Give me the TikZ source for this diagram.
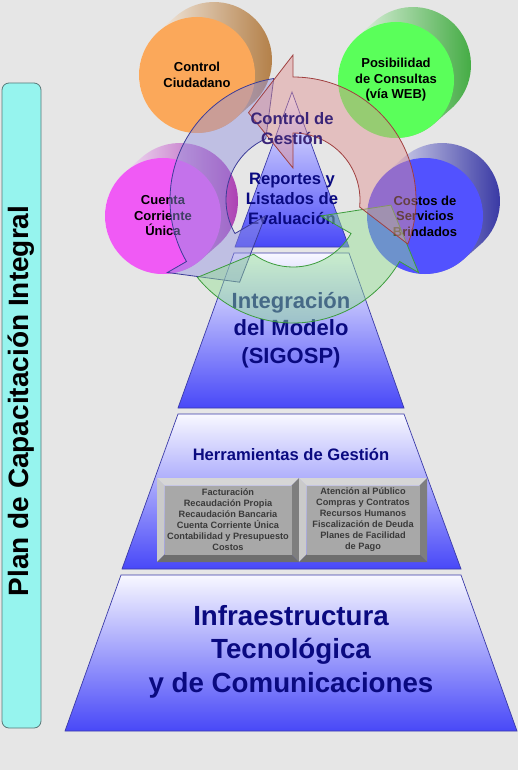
\documentclass[tikz,border=0pt]{standalone}
\usepackage{fontspec}
\setmainfont{Liberation Sans}
\usetikzlibrary{calc}
\definecolor{bgc}{HTML}{E6E6E6}
\definecolor{barfill}{HTML}{96F4EE}
\definecolor{bardraw}{HTML}{5A7878}
\definecolor{navy}{HTML}{0A0A80}
\definecolor{tierdraw}{HTML}{3A3AA8}
\definecolor{tiertop}{HTML}{F8F8FF}
\definecolor{tiermid}{HTML}{B4B4FF}
\definecolor{tierbot}{HTML}{4848F8}
\definecolor{orangeface}{HTML}{FBA85A}
\definecolor{orangedark}{HTML}{B07A40}
\definecolor{greenface}{HTML}{5AFF5A}
\definecolor{greendark}{HTML}{3CA83C}
\definecolor{magface}{HTML}{F05AF5}
\definecolor{magdark}{HTML}{A838B0}
\definecolor{blueface}{HTML}{5252FF}
\definecolor{bluedark}{HTML}{3030A0}
\definecolor{pinkfill}{HTML}{E09090}
\definecolor{pinkdraw}{HTML}{A04040}
\definecolor{lavfill}{HTML}{9090E0}
\definecolor{lavdraw}{HTML}{3C3C98}
\definecolor{mintfill}{HTML}{90E090}
\definecolor{mintdraw}{HTML}{3C9C3C}
\definecolor{gestion}{HTML}{3A2478}
\definecolor{boxtext}{HTML}{3A3A3A}
\definecolor{bevtop}{HTML}{D6D6D6}
\definecolor{bevleft}{HTML}{CACACA}
\definecolor{bevright}{HTML}{7E7E7E}
\definecolor{bevbot}{HTML}{6E6E6E}
\definecolor{bevface}{HTML}{A8A8A8}
\tikzset{
  circnode/.style={circle, minimum size=116pt, inner sep=0pt, draw=none, align=center,
    font=\fontsize{13}{15.5}\selectfont\bfseries, text=black},
  tier/.style={top color=tiertop, middle color=tiermid, bottom color=tierbot, draw=tierdraw, line width=0.7pt},
  tiertext/.style={align=center, text=navy, inner sep=0pt},
  boxtxt/.style={align=center, text=boxtext, inner sep=0pt, font=\fontsize{9.2}{11.1}\selectfont\bfseries},
  arrowring/.style={fill opacity=0.45, line width=0.8pt},
}
\newcommand\drawcyl[3]{% cx cy dark
  \begin{scope}[shift={(#1,-#2)}]
    \shade[left color=white, middle color=white!55!#3, right color=#3]
      (131.4:58) -- ++(17,15) arc[start angle=131.4,end angle=-48.6,radius=58]
      -- (-48.6:58) arc[start angle=-48.6,end angle=-228.6,radius=58] -- cycle;
  \end{scope}}
\newcommand\bevelbox[5]{% x1 y1 x2 y2 b (pixels, y downward)
  \fill[bevtop] (#1,-#2) -- (#3,-#2) -- ({#3-#5},{-#2-#5}) -- ({#1+#5},{-#2-#5}) -- cycle;
  \fill[bevleft] (#1,-#2) -- ({#1+#5},{-#2-#5}) -- ({#1+#5},{-#4+#5}) -- (#1,-#4) -- cycle;
  \fill[bevright] (#3,-#2) -- ({#3-#5},{-#2-#5}) -- ({#3-#5},{-#4+#5}) -- (#3,-#4) -- cycle;
  \fill[bevbot] (#1,-#4) -- (#3,-#4) -- ({#3-#5},{-#4+#5}) -- ({#1+#5},{-#4+#5}) -- cycle;
  \fill[bevface] ({#1+#5},{-#2-#5}) rectangle ({#3-#5},{-#4+#5});}
\newcommand\cycarrow[3]{% base angle, fill, draw
  \filldraw[arrowring, fill=#2, draw=#3]
    ({#1-111}:123) arc[start angle={#1-111}, end angle=#1, radius=123]
    -- (#1:145) -- ({#1+27}:98) -- (#1:32) -- (#1:67)
    arc[start angle=#1, end angle={#1-96}, radius=67] -- cycle;}
\begin{document}
\begin{tikzpicture}[x=1pt,y=1pt]
\useasboundingbox (0,0) rectangle (518,-770);
\fill[bgc] (0,0) rectangle (518,-770);

% left bar
\node[draw=bardraw, fill=barfill, rounded corners=7pt, minimum width=39pt, minimum height=645pt,
      inner sep=0pt, line width=0.8pt] (bar) at (21.5,-405.5) {};
\node[rotate=90, font=\fontsize{28}{30}\selectfont\bfseries, text=black, inner sep=0pt] (plan)
      at (21.5,-401) {Plan de Capacitación Integral};

% cylinders
\drawcyl{197}{75}{orangedark}
\node[circnode, fill=orangeface] (ciud) at (197,-75) {Control\\Ciudadano};
\drawcyl{396}{80}{greendark}
\node[circnode, fill=greenface] (web) at (396,-80) {Posibilidad\\de Consultas\\(vía WEB)};
\drawcyl{163}{216}{magdark}
\node[circnode, fill=magface] (cta) at (163,-216) {Cuenta\\Corriente\\Única};
\drawcyl{425}{216}{bluedark}
\node[circnode, fill=blueface] (costos) at (425,-216) {Costos de\\Servicios\\Brindados};

% pyramid tiers
\shadedraw[tier] (292,-92) -- (349,-247) -- (235,-247) -- cycle;
\shadedraw[tier] (234,-253) -- (349,-253) -- (404,-408) -- (178,-408) -- cycle;
\shadedraw[tier] (178,-414) -- (404,-414) -- (461,-569) -- (122,-569) -- cycle;
\shadedraw[tier] (121,-575) -- (461,-575) -- (517,-731) -- (65,-731) -- cycle;

% gray bevel boxes
\bevelbox{157}{478}{299}{562}{7.5}
\bevelbox{299}{478}{427}{562}{7.5}

% tier texts
\node[tiertext, font=\fontsize{16.6}{20}\selectfont\bfseries] (rep) at (292,-198.5)
  {Reportes y\\Listados de\\Evaluación};
\node[tiertext, font=\fontsize{22}{27.5}\selectfont\bfseries] (integ) at (291,-330)
  {Integración\\del Modelo\\(SIGOSP)};
\node[tiertext, font=\fontsize{16.6}{20}\selectfont\bfseries] (herr) at (291,-454)
  {Herramientas de Gestión};
\node[boxtxt] (boxl) at (228,-519.5)
  {Facturación\\Recaudación Propia\\Recaudación Bancaria\\Cuenta Corriente Única\\Contabilidad y Presupuesto\\Costos};
\node[boxtxt] (boxr) at (363,-519.5)
  {Atención al Público\\Compras y Contratos\\Recursos Humanos\\Fiscalización de Deuda\\Planes de Facilidad\\de Pago};
\node[tiertext, font=\fontsize{27.7}{33.5}\selectfont\bfseries] (infra) at (291,-651.5)
  {Infraestructura\\Tecnológica\\y de Comunicaciones};

% circular arrows
\begin{scope}[shift={(293,-200)}]
  \cycarrow{210}{lavfill}{lavdraw}
  \cycarrow{330}{mintfill}{mintdraw}
  \cycarrow{90}{pinkfill}{pinkdraw}
\end{scope}

\node[tiertext, text=gestion, font=\fontsize{16.6}{20}\selectfont\bfseries] (gest) at (292,-128.5)
  {Control de\\Gestión};
\end{tikzpicture}
\end{document}
